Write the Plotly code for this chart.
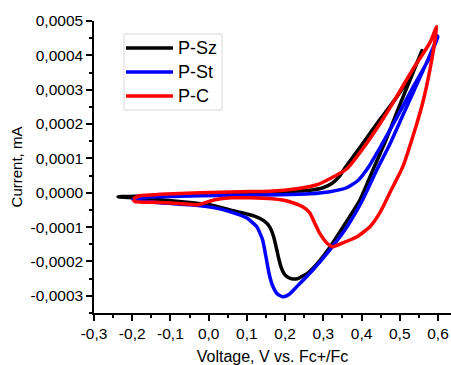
import plotly.graph_objects as go

# ---- data ----
series_names = ["P-Sz", "P-St", "P-C"]
series_colors = ["#000000", "#0000FF", "#FF0000"]

psz_v = [-0.237, -0.193, -0.127, -0.023, 0.082, 0.187, 0.265, 0.299, 0.322, 0.342, 0.360,
         0.380, 0.404, 0.448, 0.493, 0.535, 0.558,
         0.527, 0.495, 0.464, 0.430, 0.396, 0.352, 0.318, 0.290, 0.260, 0.235, 0.220,
         0.207, 0.197, 0.189, 0.183, 0.177, 0.170, 0.160, 0.145, 0.120, 0.056, 0.003,
         -0.070, -0.153, -0.237]
psz_i = [-0.0000117, -0.0000102, -0.0000073, -0.000003, 0.0, 0.000003, 0.0000073, 0.0000146,
         0.000027, 0.000048, 0.000078,
         0.000108, 0.000145, 0.000213, 0.00028, 0.000353, 0.000414,
         0.000329, 0.000242, 0.000154, 0.000067, -0.0000204, -0.000099, -0.000157, -0.000198,
         -0.000233, -0.000249, -0.000251,
         -0.000246, -0.000235, -0.000215, -0.00019, -0.00016, -0.000128, -0.0001, -0.000082,
         -0.000068, -0.00005, -0.000035, -0.000026, -0.0000175, -0.0000117]

pst_v = [-0.198, -0.180, -0.127, -0.023, 0.082, 0.187, 0.265, 0.317, 0.361, 0.390, 0.417,
         0.448, 0.492, 0.534, 0.579, 0.600,
         0.569, 0.535, 0.503, 0.472, 0.440, 0.403, 0.362, 0.317, 0.273, 0.230, 0.210, 0.195,
         0.180, 0.167, 0.158, 0.150, 0.141, 0.126, 0.099, 0.055, 0.016, -0.049, -0.127, -0.198]
pst_i = [-0.0000204, -0.0000146, -0.0000117, -0.0000087, -0.0000073, -0.0000058, -0.000003,
         0.000003, 0.0000146, 0.000035, 0.000073,
         0.000131, 0.000219, 0.000306, 0.000396, 0.000455,
         0.000376, 0.000292, 0.000213, 0.000137, 0.000067, -0.0000204, -0.000099, -0.000166,
         -0.000224, -0.000274, -0.000296, -0.000303,
         -0.000295, -0.000270, -0.000235, -0.000187, -0.000137, -0.000099, -0.000073, -0.000055,
         -0.000044, -0.000035, -0.000029, -0.0000204]

pc_v = [-0.198, -0.180, -0.127, -0.023, 0.082, 0.160, 0.230, 0.283, 0.317, 0.362, 0.403,
        0.448, 0.492, 0.534, 0.579, 0.597,
        0.579, 0.560, 0.534, 0.508, 0.474, 0.448, 0.422, 0.388, 0.351, 0.325, 0.309, 0.290,
        0.277, 0.264, 0.246, 0.212, 0.167, 0.107, 0.060, 0.016, -0.029, -0.070, -0.127,
        -0.193, -0.198]
pc_i = [-0.0000175, -0.0000087, -0.0000044, 0.0, 0.000003, 0.0000044, 0.0000117, 0.0000233,
        0.000041, 0.00007, 0.000128,
        0.000201, 0.00028, 0.000359, 0.000437, 0.000484,
        0.000359, 0.000262, 0.000163, 0.000076, 0.0, -0.000058, -0.000099, -0.000128,
        -0.000146, -0.000157, -0.000146, -0.000117,
        -0.000087, -0.000058, -0.000041, -0.000026, -0.0000175, -0.0000146, -0.0000146,
        -0.0000204, -0.000035, -0.000032, -0.000028, -0.000026, -0.0000204]

x_tickvals = [-0.3, -0.2, -0.1, 0.0, 0.1, 0.2, 0.3, 0.4, 0.5, 0.6]
x_ticktext = ["-0,3", "-0,2", "-0,1", "0,0", "0,1", "0,2", "0,3", "0,4", "0,5", "0,6"]
y_tickvals = [0.0005, 0.0004, 0.0003, 0.0002, 0.0001, 0.0, -0.0001, -0.0002, -0.0003]
y_ticktext = ["0,0005", "0,0004", "0,0003", "0,0002", "0,0001", "0,0000",
              "-0,0001", "-0,0002", "-0,0003"]

x_title = "Voltage, V vs. Fc+/Fc"
y_title = "Current, mA"

# ---- figure ----
FONT = "Arial, 'Liberation Sans', sans-serif"
fig = go.Figure()
for name, color, xs, ys in zip(series_names, series_colors,
                               [psz_v, pst_v, pc_v], [psz_i, pst_i, pc_i]):
    fig.add_trace(go.Scatter(x=xs, y=ys, mode="lines", name=name,
                             line=dict(color=color, width=3.5, shape="spline", smoothing=0.5),
                             showlegend=False, hoverinfo="skip"))

# custom legend (Origin style, long line samples)
L, R, T, B = 94, 451, 21, 313
def px(xp):
    return (xp - L) / (R - L)
def py(yp):
    return (B - yp) / (B - T)

fig.add_shape(type="rect", xref="paper", yref="paper",
              x0=px(124), x1=px(222), y0=py(110), y1=py(34),
              line=dict(color="#d8d8d8", width=1), fillcolor="white", layer="above")
rows = [48, 72, 96]
for name, color, ry in zip(series_names, series_colors, rows):
    fig.add_shape(type="line", xref="paper", yref="paper",
                  x0=px(126), x1=px(173), y0=py(ry), y1=py(ry),
                  line=dict(color=color, width=3.5), layer="above")
    fig.add_annotation(x=px(176), y=py(ry), xref="paper", yref="paper",
                       text=name, showarrow=False, xanchor="left", yanchor="middle",
                       font=dict(family=FONT, size=18, color="black"))

axis_common = dict(showline=True, linecolor="black", linewidth=1.5, ticks="outside",
                   ticklen=6, tickwidth=1.5, tickcolor="black", showgrid=False,
                   zeroline=False, mirror=False,
                   tickfont=dict(family=FONT, size=15.5, color="black"))

fig.update_xaxes(range=[-0.3, 0.634], tickvals=x_tickvals, ticktext=x_ticktext,
                 minor=dict(ticks="outside", ticklen=3, tickwidth=1.5, dtick=0.05,
                            tick0=0, tickcolor="black"),
                 title=dict(text=x_title, font=dict(family=FONT, size=16, color="black"),
                            standoff=10),
                 **axis_common)
fig.update_yaxes(range=[-0.00035, 0.0005], tickvals=y_tickvals, ticktext=y_ticktext,
                 minor=dict(ticks="outside", ticklen=3, tickwidth=1.5, dtick=0.00005,
                            tick0=0, tickcolor="black"),
                 title=dict(text=y_title, font=dict(family=FONT, size=15, color="black"),
                            standoff=4),
                 **axis_common)

fig.update_layout(width=451, height=365, margin=dict(l=L, r=451 - R, t=T, b=365 - B),
                  plot_bgcolor="white", paper_bgcolor="white", showlegend=False,
                  hovermode=False)

fig.write_html("out.html", config={"displayModeBar": False},
               post_script="document.body.style.margin='0';document.body.style.overflow='hidden';")
